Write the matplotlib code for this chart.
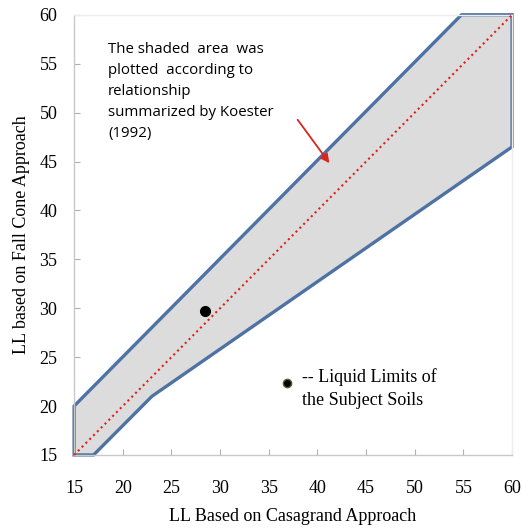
import matplotlib.pyplot as plt
from matplotlib.patches import Polygon

# Envelope of the Koester (1992) relationship (Casagrande LL, fall cone LL)
band_x = [15, 15, 54.8, 60, 60, 23, 17]
band_y = [15, 20, 60, 60, 46.5, 21, 15]

# 1:1 line
line_x = [15, 60]
line_y = [15, 60]

# Measured liquid limits of the subject soils
soil_x = [28.4]
soil_y = [29.7]

fig = plt.figure(figsize=(5.22, 5.29), dpi=100)
ax = fig.add_axes([0.142, 0.140, 0.839, 0.832])

band = Polygon(list(zip(band_x, band_y)), closed=True, facecolor='#dcdcdc',
               edgecolor='#4f72a4', linewidth=2.4, joinstyle='miter', zorder=2,
               clip_on=False)
ax.add_patch(band)
ax.plot(line_x, line_y, color='#e0201b', linestyle=(0, (1, 1.6)), linewidth=1.5,
        zorder=3, clip_on=False)
ax.plot(soil_x, soil_y, 'o', color='black', markersize=7, zorder=4)

# legend-like note
ax.plot([36.9], [22.4], 'o', color='black', markersize=6, markeredgecolor='#4a6a30',
        markeredgewidth=1.0, zorder=4)
ax.text(38.4, 21.8, '-- Liquid Limits of\nthe Subject Soils', family='Liberation Serif',
        fontsize=13, va='center', ha='left', linespacing=1.45)

ax.text(18.5, 57.2, 'The shaded  area  was\nplotted  according to\nrelationship\nsummarized by Koester\n(1992)',
        family='Open Sans', fontsize=10.8, va='top', ha='left', linespacing=1.55)
ax.annotate('', xy=(41.4, 44.6), xytext=(37.8, 49.5),
            arrowprops=dict(arrowstyle='-|>', color='#d8261c', lw=1.3, mutation_scale=13))

ax.set_xlim(15, 60)
ax.set_ylim(15, 60)
ax.set_xticks(range(15, 61, 5))
ax.set_yticks(range(15, 61, 5))
for s in ax.spines.values():
    s.set_color('#c8c8c8')
    s.set_linewidth(1.0)
ax.spines['top'].set_color('#ececec')
ax.spines['right'].set_color('#ececec')
ax.tick_params(direction='in', length=4, color='#b0b0b0', labelsize=13)
ax.tick_params(axis='x', pad=18)
ax.tick_params(axis='y', pad=12)
for lbl in ax.get_xticklabels() + ax.get_yticklabels():
    lbl.set_family('Liberation Serif')

ax.set_xlabel('LL Based on Casagrand Approach', family='Liberation Serif', fontsize=13, labelpad=8)
ax.set_ylabel('LL based on Fall Cone Approach', family='Liberation Serif', fontsize=13, labelpad=7)

fig.savefig('out.png', dpi=100)
